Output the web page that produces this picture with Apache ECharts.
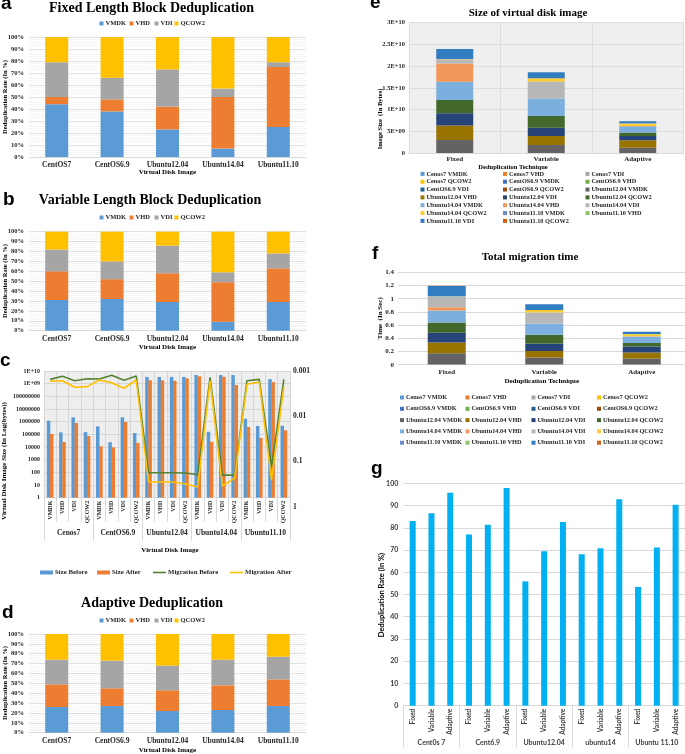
<!DOCTYPE html>
<html><head><meta charset="utf-8">
<script src="https://cdn.jsdelivr.net/npm/echarts/dist/echarts.min.js"></script>
<style>html,body{margin:0;padding:0;background:#fff}#c{width:685px;height:754px}</style>
</head><body><div id="c"></div><script>
// ---------- DATA ----------
const osNames = ['CentOS7','CentOS6.9','Ubuntu12.04','Ubuntu14.04','Ubuntu11.10'];
const formats = ['VMDK','VHD','VDI','QCOW2'];
// (a) fixed length block dedup (%)
const fixedVMDK = [44,38,23,7,25];
const fixedVHD  = [6,10,19,43,50];
const fixedVDI  = [29,18,31,7,4];
const fixedQCOW2= [21,34,27,43,21];
// (b) variable length block dedup (%)
const varVMDK = [31,32,29,9,29];
const varVHD  = [29,20,29,40,34];
const varVDI  = [22,18,28,10,15];
const varQCOW2= [18,30,14,41,22];
// (d) adaptive dedup (%)
const adVMDK = [26,27,22,23,27];
const adVHD  = [23,18,21,25,27];
const adVDI  = [25,28,25,26,23];
const adQCOW2= [26,27,32,26,23];
// (c) sizes and migration
const cGroups = ['Cenos7','CentOS6.9','Ubuntu12.04','Ubuntu14.04','Ubuntu11.10'];
const sizeBefore = [1.2e6,1.45e5,2.2e6,1.5e5, 4.3e5,2.4e4,2.2e6,1.27e5, 3.4e9,3.4e9,3.4e9,3.4e9, 4.8e9,1.6e5,4.8e9,4.8e9, 1.7e6,4.6e5,2.3e9,4.8e5];
const sizeAfter  = [1.07e5,2.5e4,7.9e5,7.4e4, 1.15e4,9.5e3,9.4e5,2.1e4, 1.85e9,1.85e9,1.7e9,2.6e9, 3.8e9,2.6e4,3.5e9,7.9e8, 3.8e5,5.2e4,1.35e9,2.1e5];
const migBefore  = [0.00153,0.00131,0.00164,0.00148, 0.0015,0.00124,0.0016,0.00129, 0.177,0.177,0.177,0.18, 0.196,0.00138,0.2,0.2, 0.00164,0.00153,0.135,0.00153];
const migAfter   = [0.00169,0.00164,0.00229,0.00222, 0.00158,0.00181,0.00241,0.00158, 0.284,0.284,0.284,0.315, 0.367,0.00164,0.349,0.232, 0.00197,0.00175,0.257,0.00222];
const leftLogTicks = ['1','10','100','1000','10000','100000','1000000','10000000','100000000','1E+09','1E+10'];
// (e),(f) per technique
const techniques = ['Fixed','Variable','Adaptive'];
const diskNames = ['Cenos7 VMDK','Cenos7 VHD','Cenos7 VDI','Cenos7 QCOW2','CentOS6.9 VMDK','CentOS6.9 VHD','CentOS6.9 VDI','CentOS6.9 QCOW2','Ubuntu12.04 VMDK','Ubuntu12.04 VHD','Ubuntu12.04 VDI','Ubuntu12.04 QCOW2','Ubuntu14.04 VMDK','Ubuntu14.04 VHD','Ubuntu14.04 VDI','Ubuntu14.04 QCOW2','Ubuntu11.10 VMDK','Ubuntu11.10 VHD','Ubuntu11.10 VDI','Ubuntu11.10 QCOW2'];
const sizeFixed    = [1.2e6,1.1e5,7.9e5,7.4e4, 1.2e4,9.5e3,9.4e5,2.1e4, 3.0e9,3.3e9,2.84e9,3.07e9, 4.2e9,4.2e9,1.0e9,2.5e7, 3.8e5,4.6e4,2.3e9,2.1e5];
const sizeVariable = [1.0e6,9e4,6e5,6e4, 1e4,8e3,8e5,2e4, 1.84e9,2.07e9,1.92e9,2.69e9, 4.0e9,2e7,3.9e9,0.77e9, 3e5,4e4,1.38e9,2e5];
const sizeAdaptive = [9e5,8e4,5e5,5e4, 1e4,7e3,7e5,1.8e4, 1.23e9,1.69e9,1.0e9,0.77e9, 1.3e9,1e7,0.23e9,0.54e9, 0.15e9,3e4,0.38e9,1.5e5];
const timeFixed    = [0.001,0.001,0.001,0.001, 0.001,0.001,0.001,0.001, 0.167,0.162,0.147,0.157, 0.18,0.05,0.16,0.002, 0.003,0.001,0.157,0.002];
const timeVariable = [0.001,0.001,0.001,0.001, 0.001,0.001,0.001,0.001, 0.1,0.1,0.115,0.13, 0.17,0.002,0.167,0.035, 0.002,0.001,0.085,0.001];
const timeAdaptive = [0.001,0.001,0.001,0.001, 0.001,0.001,0.001,0.001, 0.086,0.09,0.09,0.055, 0.09,0.002,0.01,0.03, 0.002,0.001,0.035,0.001];
// (g)
const gGroups = ['Cent0s 7','Cent6.9','Ubuntu12.04','ubuntu14','Ubuntu 11.10'];
const gRates = [83,86.5,95.8, 77,81.4,97.9, 55.9,69.4,82.6, 68.1,70.8,92.8, 53.4,71.1,90.4];

// ---------- STYLE ----------
const SERIF = '"Liberation Serif","Times New Roman",serif';
const SANS = '"Liberation Sans",Arial,sans-serif';
const GSANS = 'Lato,"Liberation Sans",sans-serif';
const fmtColors = ['#5b9bd5','#ed7d31','#a5a5a5','#ffc000'];
const diskColors = ['#5b9bd5','#ed7d31','#a5a5a5','#ffc000','#4472c4','#70ad47','#255e91','#9e480e','#636363','#997300','#264478','#43682b','#7cafdd','#f1975a','#b7b7b7','#ffcd33','#698ed0','#8cc168','#327dc2','#d26012'];
const LBL = '#262626', GRID = '#d9d9d9';

const cCats = cGroups.flatMap(() => formats);
const gCats = gGroups.flatMap(() => techniques);

function lab(size, extra){ return Object.assign({fontSize:size,fontWeight:'bold',fontFamily:SERIF,color:LBL}, extra||{}); }
function pctY(gi){ return {gridIndex:gi,type:'value',min:0,max:100,interval:10,
  axisLabel:lab(6.5,{formatter:'{value}%',margin:5}),axisLine:{show:false},axisTick:{show:false},
  splitLine:{lineStyle:{color:GRID,width:0.8}},minorTick:{show:false,splitNumber:5},
  minorSplitLine:{show:true,lineStyle:{color:'#f0f0f0',width:0.6}}}; }
function osX(gi){ return {gridIndex:gi,type:'category',data:osNames,axisLine:{lineStyle:{color:GRID}},
  axisTick:{show:false},axisLabel:lab(7.5,{interval:0,margin:4}),splitLine:{show:false}}; }
function pctSeries(arrs, idx, stack){ return formats.map((f,i)=>({name:f,type:'bar',stack:stack,xAxisIndex:idx,yAxisIndex:idx,
  barWidth:23,data:arrs[i],itemStyle:{color:fmtColors[i]}})); }
function expFmt(v){ if(v===0) return '0'; const e=Math.floor(Math.log10(v)+1e-9); const m=+(v/Math.pow(10,e)).toFixed(1); return m+'E+'+String(e).padStart(2,'0'); }

const series = [].concat(
  pctSeries([fixedVMDK,fixedVHD,fixedVDI,fixedQCOW2],0,'a'),
  pctSeries([varVMDK,varVHD,varVDI,varQCOW2],1,'b'),
  pctSeries([adVMDK,adVHD,adVDI,adQCOW2],2,'d'),
  [{name:'Size Before',type:'bar',xAxisIndex:3,yAxisIndex:3,barWidth:3.5,barGap:'-10%',data:sizeBefore,itemStyle:{color:'#5b9bd5'}},
   {name:'Size After',type:'bar',xAxisIndex:3,yAxisIndex:3,barWidth:3.5,barGap:'-10%',data:sizeAfter,itemStyle:{color:'#ed7d31'}},
   {name:'Migration Before',type:'line',xAxisIndex:5,yAxisIndex:4,data:migBefore,symbol:'none',lineStyle:{color:'#548235',width:1.6},itemStyle:{color:'#548235'}},
   {name:'Migration After',type:'line',xAxisIndex:5,yAxisIndex:4,data:migAfter,symbol:'none',lineStyle:{color:'#ffc000',width:1.6},itemStyle:{color:'#ffc000'}}],
  diskNames.map((n,i)=>({name:n,type:'bar',stack:'e',xAxisIndex:6,yAxisIndex:5,barWidth:37,
    data:[sizeFixed[i],sizeVariable[i],sizeAdaptive[i]],itemStyle:{color:diskColors[i]}})),
  diskNames.map((n,i)=>({name:n,type:'bar',stack:'f',xAxisIndex:7,yAxisIndex:6,barWidth:38,
    data:[timeFixed[i],timeVariable[i],timeAdaptive[i]],itemStyle:{color:diskColors[i]}})),
  [{name:'rate',type:'bar',xAxisIndex:8,yAxisIndex:7,barWidth:6,data:gRates,itemStyle:{color:'#00b0f0'}}]
);

const grids = [
  {left:29,top:37,width:277,height:120},       //0 a
  {left:29,top:231.7,width:277,height:99},     //1 b
  {left:44,top:371,width:246,height:126.7,show:true,backgroundColor:'#eeeeee',borderWidth:0}, //2 c bars
  {left:44,top:371,width:246,height:135.7},    //3 c lines
  {left:29,top:634,width:277,height:98.7},     //4 d
  {left:409,top:22.7,width:274.5,height:130.3,show:true,backgroundColor:'#efefef',borderWidth:0}, //5 e
  {left:398,top:272.3,width:292.5,height:92.4},//6 f
  {left:403.3,top:483.3,width:281.7,height:222.4} //7 g
].map(g=>Object.assign({outerBoundsMode:'none',containLabel:false},g));

const xAxis = [
  osX(0), osX(1), osX(4),
  {gridIndex:2,type:'category',data:cCats,position:'bottom',axisLine:{lineStyle:{color:GRID}},
   axisTick:{show:true,interval:0,length:24,lineStyle:{color:GRID}},
   axisLabel:lab(6,{interval:0,rotate:90,margin:3}),splitLine:{show:true,interval:0,lineStyle:{color:'#d6d6d6'}}},
  {gridIndex:2,type:'category',data:cGroups,position:'bottom',offset:0,axisLine:{show:false},
   axisTick:{show:true,interval:0,length:43,lineStyle:{color:GRID}},axisLabel:lab(7.5,{interval:0,margin:31.5}),splitLine:{show:false}},
  {gridIndex:3,type:'category',data:cCats,show:false},
  {gridIndex:5,type:'category',data:techniques,axisLine:{lineStyle:{color:GRID}},axisTick:{show:false},
   axisLabel:lab(7,{interval:0,margin:3}),splitLine:{show:true,interval:0,lineStyle:{color:'#dcdcdc'}}},
  {gridIndex:6,type:'category',data:techniques,axisLine:{lineStyle:{color:GRID}},axisTick:{show:false},
   axisLabel:lab(7,{interval:0,margin:3.5}),splitLine:{show:false}},
  {gridIndex:7,type:'category',data:gCats,axisLine:{lineStyle:{color:GRID}},axisTick:{show:false},
   axisLabel:{interval:0,rotate:90,margin:3,fontSize:6.5,fontWeight:'bold',fontFamily:GSANS,color:'#404040'},splitLine:{show:false}},
  {gridIndex:7,type:'category',data:gGroups,position:'bottom',offset:0,axisLine:{show:false},
   axisTick:{show:true,interval:0,length:42,lineStyle:{color:GRID}},
   axisLabel:{interval:0,margin:33.5,fontSize:7,fontWeight:'bold',fontFamily:GSANS,color:'#404040'},splitLine:{show:false}}
];

const yAxis = [
  pctY(0), pctY(1), pctY(4),
  {gridIndex:2,type:'log',logBase:10,min:1,max:1e10,interval:1,splitNumber:10,
   axisLabel:lab(6,{margin:4,formatter:v=>leftLogTicks[Math.round(Math.log10(v))]}),
   axisLine:{show:false},axisTick:{show:false},splitLine:{show:true,lineStyle:{color:'#d6d6d6'}}},
  {gridIndex:3,type:'log',logBase:10,min:0.001,max:1,inverse:true,position:'right',splitNumber:3,
   axisLabel:lab(7.5,{margin:3,formatter:v=>String(+v.toPrecision(1))}),
   axisLine:{show:false},axisTick:{show:false},splitLine:{show:false}},
  {gridIndex:5,type:'value',min:0,max:3e10,interval:5e9,axisLabel:lab(6.5,{margin:4,formatter:expFmt}),
   axisLine:{show:false},axisTick:{show:false},splitLine:{lineStyle:{color:'#dcdcdc'}}},
  {gridIndex:6,type:'value',min:0,max:1.4,interval:0.2,axisLabel:lab(7,{margin:4,formatter:v=>String(+v.toFixed(1))}),
   axisLine:{show:false},axisTick:{show:false},splitLine:{lineStyle:{color:GRID}}},
  {gridIndex:7,type:'value',min:0,max:100,interval:10,
   axisLabel:{margin:5,fontSize:7,fontWeight:'bold',fontFamily:GSANS,color:'#404040'},
   axisLine:{show:false},axisTick:{show:false},splitLine:{lineStyle:{color:GRID}}}
];

function oneLegend(name, left, top, extra){ return Object.assign({data:[name],left:left,top:top,itemWidth:4,itemHeight:4,
  icon:'rect',selectedMode:false,padding:0,textStyle:lab(6.5,{padding:[0,0,0,-3]})},extra||{}); }
const legends = [];
[99.5,129.5,154.5,174.5].forEach((x,i)=>{
  legends.push(oneLegend(formats[i],x,20));
  legends.push(oneLegend(formats[i],x,214));
  legends.push(oneLegend(formats[i],x,617));
});
const cLeg = ['Size Before','Size After','Migration Before','Migration After'];
const cIcons = ['rect','rect','path://M0,0H13V1.6H0Z','path://M0,0H13V1.6H0Z'];
[40,97,153,230].forEach((x,i)=>legends.push({data:[{name:cLeg[i],icon:cIcons[i]}],left:x,top:569,itemWidth:13,itemHeight:4,
  padding:0,selectedMode:false,textStyle:lab(6.8,{padding:[0,0,0,-3]})}));
// (e) legend: 3 columns
const eCols = [[],[],[]];
diskNames.forEach((n,i)=>eCols[i%3].push(n));
[420.5,503,585.5].forEach((x,c)=>legends.push({data:eCols[c],left:x,top:170,orient:'vertical',itemGap:0,itemWidth:4,itemHeight:4,
  icon:'rect',selectedMode:false,padding:0,textStyle:lab(6.3,{lineHeight:7.83,height:7.83,padding:[0,0,0,-3]})}));
// (f) legend: 4 columns
const fCols = [[],[],[],[]];
diskNames.forEach((n,i)=>fCols[i%4].push(n));
[400,465.5,531.5,597].forEach((x,c)=>legends.push({data:fCols[c],left:x,top:393.5,orient:'vertical',itemGap:3.3,itemWidth:4,itemHeight:4,
  icon:'rect',selectedMode:false,padding:0,textStyle:lab(6.3,{lineHeight:8,height:8,padding:[0,0,0,-3]})}));

function txt(t,x,y,font,opt){ return Object.assign({type:'text',x:x,y:y,silent:true,
  style:{text:t,font:font,fill:'#000',align:'center',verticalAlign:'middle',textAlign:'center',textVerticalAlign:'middle'}},opt||{}); }
function vtxt(t,x,y,font){ return txt(t,x,y,font,{rotation:Math.PI/2}); }
const LETTER = 'bold 19px "Liberation Sans",Arial,sans-serif';
function letter(t,x,y){ return {type:'text',x:x,y:y,silent:true,style:{text:t,font:LETTER,fill:'#000',align:'left',verticalAlign:'top',textAlign:'left',textVerticalAlign:'top'}}; }
const F = (s)=>'bold '+s+'px '+SERIF;
const graphic = [
  letter('a',1,-6), letter('b',3,190), letter('c',0,351), letter('d',2,603),
  letter('e',370,-7), letter('f',372,244), letter('g',371,459),
  txt('Fixed Length Block Deduplication',151.5,8,F(14)),
  txt('Variable Length Block Deduplication',150,200,F(14)),
  txt('Adaptive Deduplication',152,603,F(14)),
  txt('Size of virtual disk image',528,13.5,F(11)),
  txt('Total migration time',530,257,F(11)),
  vtxt('Deduplication Rate (In %)',5,97,F(6.5)),
  txt('Virtual Disk Image',167.5,172.5,F(7)),
  vtxt('Deduplication Rate (In %)',5,281,F(6.5)),
  txt('Virtual Disk Image',167.5,347,F(7)),
  vtxt('Virtual Disk Image Size (In Log(bytes))',4.5,461,F(7)),
  txt('Virtual Disk Image',170,550,F(7)),
  vtxt('Deduplication Rate (In %)',5,683,F(6.5)),
  txt('Virtual Disk Image',167.5,750.5,F(7)),
  vtxt('Image Size  (In Bytes)',380,119,F(6.5)),
  txt('Deduplication Technique',513,167.5,F(6.5)),
  vtxt('Time  (In Sec)',380,318.3,F(7)),
  txt('Deduplication Technique',541.7,380.7,F(7)),
  vtxt('Deduplication Rate (In %)',381.7,595,'bold 7.5px '+GSANS)
];

const chart = echarts.init(document.getElementById('c'),null,{renderer:'canvas',width:685,height:754});
chart.setOption({animation:false,backgroundColor:'#fff',tooltip:{show:false},
  grid:grids,xAxis:xAxis,yAxis:yAxis,series:series,legend:legends,graphic:graphic});
</script></body></html>
